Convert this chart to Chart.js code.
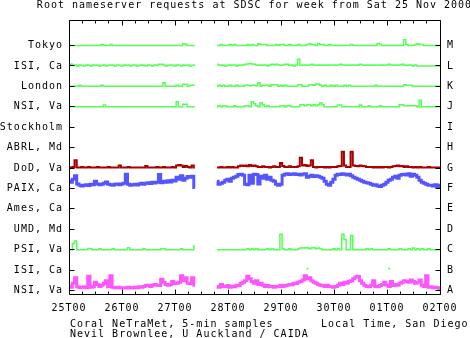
<!DOCTYPE html>
<html><head><meta charset="utf-8">
<script src="https://cdn.jsdelivr.net/npm/chart.js@4/dist/chart.umd.min.js"></script>
<style>html,body{margin:0;padding:0;background:#fff}canvas{display:block}</style>
</head><body>
<canvas id="c" width="470" height="338"></canvas>
<script>
// ---- text ----
const titleText = 'Root nameserver requests at SDSC for week from Sat 25 Nov 2000';
const servers = ['NSI, Va','ISI, Ca','PSI, Va','UMD, Md','Ames, Ca','PAIX, Ca','DoD, Va','ABRL, Md','Stockholm','NSI, Va','London','ISI, Ca','Tokyo'];
const letters = ['A','B','C','D','E','F','G','H','I','J','K','L','M'];
const dayLabels = ['25T00','26T00','27T00','28T00','29T00','30T00','01T00','02T00'];
const footLeft1 = 'Coral NeTraMet, 5-min samples';
const footLeft2 = 'Nevil Brownlee, U Auckland / CAIDA';
const footRight = 'Local Time, San Diego';

// ---- data: hourly activity (0..100 of a row), segment 1 = hours 0..57, segment 2 = hours 67..168 ----
const seg2Start = 67;

const tokyo1 = [0,0,0,0,0,0,0,0,0,0, 0,0,0,0,0,5,0,0,0,5, 0,0,0,0,0,0,0,0,0,0, 0,0,0,0,0,0,0,0,0,0, 0,0,0,0,0,0,0,0,0,0, 0,0,8,5,0,0,0,0];
const tokyo2 = [0,0,5,0,0,0,5,0,5,0, 0,0,0,0,5,0,5,0,0,8, 5,5,5,0,0,0,0,5,0,5, 5,0,0,5,0,0,0,5,0,0, 0,5,8,5,5,0,10,5,5,0, 0,5,0,0,0,0,0,0,0,0, 0,5,0,0,0,0,0,0,0,0, 0,0,0,10,5,0,0,0,0,0, 0,0,0,0,0,28,5,0,0,0, 5,8,5,5,0,0,0,0,0,0, 0,0];

const isiL1 = [10,8,3,5,0,5,3,0,5,3, 0,5,3,5,0,3,5,0,3,5, 3,0,5,3,0,5,3,5,0,3, 5,0,3,5,3,0,5,3,0,5, 3,8,8,5,0,3,5,3,0,5, 3,0,5,3,5,0,3,5];
const isiL2 = [8,5,3,5,0,3,5,3,5,0, 5,3,5,8,10,12,10,8,5,3, 5,3,5,0,5,8,5,8,5,3, 5,8,8,3,5,0,5,33,5,3, 5,3,5,8,5,3,5,3,5,3, 5,3,5,5,3,5,8,5,3,5, 3,5,5,3,5,8,5,3,5,3, 5,3,5,5,3,5,3,5,8,5, 3,5,3,5,8,5,3,5,3,0, 5,0,0,0,0,0,0,0,0,0, 0,0];

const london1 = [0,0,0,0,0,5,0,0,0,0, 0,0,0,0,0,5,0,0,0,0, 0,0,0,0,0,0,0,0,0,0, 0,0,0,0,0,0,0,0,0,0, 0,0,0,18,0,0,0,0,0,5, 0,0,10,10,0,5,5,5];
const london2 = [0,5,0,5,0,0,5,0,0,5, 0,0,0,5,5,3,5,5,3,18, 0,5,5,5,0,8,8,8,0,5, 0,5,0,0,0,0,0,8,8,0, 0,0,8,8,5,12,12,5,0,5, 0,0,5,0,5,0,0,0,5,0, 5,0,0,0,0,0,0,0,0,0, 0,0,5,0,0,0,0,0,0,0, 0,0,0,0,0,8,5,5,5,0, 0,0,0,0,0,0,0,0,0,0, 0,0];

const nsiJ1 = [0,0,0,0,0,0,0,0,0,0, 0,0,0,0,0,0,8,0,0,0, 0,0,0,0,0,0,0,0,0,0, 0,0,0,0,0,0,0,0,0,0, 0,0,0,0,0,0,0,0,0,25, 0,0,12,12,0,0,0,0];
const nsiJ2 = [0,5,0,5,5,0,0,0,5,0, 0,0,0,5,5,0,25,15,5,0, 20,10,0,5,0,0,0,0,0,5, 5,0,5,5,0,0,0,0,10,10, 5,10,10,5,10,5,10,20,10,0, 0,0,0,0,0,8,8,0,0,0, 0,0,0,0,0,8,0,0,0,5, 0,0,0,0,5,0,0,0,0,0, 0,0,0,10,10,5,5,5,5,5, 5,0,32,0,0,0,0,0,0,0, 0,0];

const dod1 = [2,2,5,38,2,2,5,2,2,5, 2,2,2,5,2,2,2,2,5,2, 2,2,2,12,2,2,2,5,2,2, 2,2,2,2,2,10,2,2,2,2, 5,2,2,5,2,2,2,5,2,12, 15,12,5,10,5,2,12,2];
const dod2 = [2,2,5,2,2,5,2,5,2,2, 8,12,10,12,8,15,10,12,8,5, 5,8,5,5,2,5,8,5,5,25, 10,5,5,8,5,5,5,8,50,12, 15,10,12,38,5,2,5,5,5,2, 5,2,5,5,5,8,10,79,12,5, 5,79,12,10,8,12,10,8,5,5, 5,2,5,2,5,2,5,5,2,5, 8,10,12,8,10,5,8,5,5,2, 5,2,5,2,2,2,5,2,2,2, 2,2];

const paix1 = [38,30,45,62,22,15,12,15,18,14, 20,18,35,22,18,20,25,32,20,18, 16,20,22,18,22,25,70,20,15,18, 20,17,22,25,20,25,28,24,30,26, 30,68,28,35,30,38,32,40,36,55, 45,62,40,50,58,55,60,5];
const paix2 = [35,20,25,30,40,45,35,50,55,60, 68,70,65,20,18,65,25,70,68,22, 60,50,65,45,55,40,35,20,15,20, 65,70,72,68,70,72,68,70,66,70, 72,55,60,65,58,62,60,55,50,35, 20,15,30,45,65,70,68,72,70,66, 70,62,55,50,45,40,35,30,28,25, 20,15,18,12,10,15,20,30,40,45, 55,60,50,65,68,70,66,72,60,70, 65,55,40,30,25,20,15,15,12,18, 10,15];

const psi1 = [0,0,30,42,0,0,0,0,0,6, 5,0,0,0,5,0,0,0,0,0, 5,0,0,0,0,0,0,10,0,0, 0,0,0,0,5,0,0,0,0,0, 0,0,5,5,0,0,0,0,0,0, 0,5,0,0,0,0,0,18];
const psi2 = [0,0,0,0,0,0,0,0,0,0, 0,0,0,0,5,0,5,0,5,0, 0,0,0,5,0,5,0,0,0,75, 5,0,0,5,0,0,0,5,8,10, 8,10,5,8,10,5,8,5,0,0, 0,0,0,5,0,5,0,75,50,0, 0,70,0,0,0,0,0,0,5,0, 5,0,0,0,0,0,0,0,5,0, 0,0,0,5,0,0,0,5,0,8, 0,5,0,5,0,0,5,0,0,0, 0,0];

const isiBHours = [108, 145];
const isiBValues = [7, 7];

const nsiA1 = [22,16,36,62,18,14,16,18,14,70, 16,18,40,30,20,26,36,48,18,72, 16,14,16,14,12,14,12,16,14,12, 16,14,18,16,20,24,26,20,26,30, 26,24,55,40,30,26,28,44,34,36, 40,72,48,62,36,34,62,26];
const nsiA2 = [20,16,30,20,18,24,16,20,18,26, 24,34,40,48,70,58,44,36,48,30, 36,26,20,24,18,20,16,20,18,26, 20,24,26,30,28,36,34,40,44,52, 72,58,62,48,40,36,30,26,24,20, 26,20,18,16,20,26,36,30,40,36, 44,48,58,66,70,48,36,26,20,18, 26,48,20,18,24,30,40,26,20,44, 24,30,26,36,40,48,44,40,52,44, 36,40,52,26,20,72,16,18,14,16, 14,10];

// ---- styling ----
const GREEN = '#55ff55', BLUE = '#5555ff', MAGENTA = '#ff55ff', RED = '#aa0000';
const FONT = {family: '"DejaVu Sans Mono", "Liberation Mono", monospace', size: 10};
const FONT_CSS = '10px "DejaVu Sans Mono", "Liberation Mono", monospace';
const Y_MIN = -0.2204, Y_MAX = 13.249;

function build(row, s1, s2) {
  const pts = [];
  s1.forEach((v, i) => pts.push({x: i, y: row + v / 100}));
  pts.push({x: (s1.length + seg2Start) / 2, y: null});
  s2.forEach((v, i) => pts.push({x: seg2Start + i, y: row + v / 100}));
  return pts;
}
function line(row, s1, s2, color, w) {
  return {data: build(row, s1, s2), borderColor: color, backgroundColor: color, borderWidth: w,
    pointRadius: 0, stepped: 'middle', spanGaps: false, fill: false, yAxisID: 'y'};
}

const datasets = [
  line(12, tokyo1, tokyo2, GREEN, 1.5),
  line(11, isiL1, isiL2, GREEN, 1.5),
  line(10, london1, london2, GREEN, 1.5),
  line(9, nsiJ1, nsiJ2, GREEN, 1.5),
  line(6, dod1, dod2, RED, 2),
  line(5, paix1, paix2, BLUE, 3),
  line(2, psi1, psi2, GREEN, 1.5),
  {data: isiBHours.map((h, i) => ({x: h, y: 1 + isiBValues[i] / 100})), showLine: false,
   pointStyle: 'rect', pointRadius: 1.3, pointBackgroundColor: GREEN, pointBorderWidth: 0, yAxisID: 'y'},
  line(0, nsiA1, nsiA2, MAGENTA, 3)
];

const spacing = {id: 'spacing', beforeDraw(chart) { chart.ctx.letterSpacing = '1px'; }};

const frame = {
  id: 'frame',
  afterDraw(chart) {
    const {ctx, chartArea: a, scales} = chart;
    const xs = scales.x, ys = scales.y;
    const L = a.left + 0.5, R = a.right + 0.5, T = a.top + 0.5, B = a.bottom - 0.5;
    ctx.save();
    ctx.strokeStyle = '#000'; ctx.lineWidth = 1;
    ctx.beginPath();
    ctx.moveTo(L, T); ctx.lineTo(R, T); ctx.lineTo(R, B); ctx.lineTo(L, B); ctx.closePath();
    servers.forEach((_, i) => {
      const y = Math.floor(ys.getPixelForValue(i)) + 0.5;
      ctx.moveTo(L, y); ctx.lineTo(L + 5, y);
      ctx.moveTo(R - 5, y); ctx.lineTo(R, y);
    });
    for (let h = 0; h <= 168; h += 6) {
      const x = Math.floor(xs.getPixelForValue(h)) + 0.5;
      const len = h % 24 === 0 ? 5 : 3;
      ctx.moveTo(x, T); ctx.lineTo(x, T + len);
      ctx.moveTo(x, B); ctx.lineTo(x, B - len);
    }
    ctx.stroke();
    ctx.fillStyle = '#000';
    ctx.font = FONT_CSS;
    ctx.letterSpacing = '1px';
    ctx.textBaseline = 'alphabetic';
    ctx.textAlign = 'center';
    ctx.fillText(titleText, (a.left + a.right) / 2, 8);
    ctx.textAlign = 'left';
    ctx.fillText(footLeft1, a.left + 1, 327);
    ctx.fillText(footLeft2, a.left + 1, 337);
    ctx.textAlign = 'right';
    ctx.fillText(footRight, 468.5, 327);
    ctx.restore();
  }
};

new Chart(document.getElementById('c'), {
  type: 'line',
  data: {datasets},
  options: {
    responsive: false, animation: false, devicePixelRatio: 1,
    layout: {padding: {top: 20, left: 0, right: 0, bottom: 0}},
    plugins: {legend: {display: false}, tooltip: {enabled: false}, title: {display: false}},
    scales: {
      x: {type: 'linear', min: 0, max: 168, position: 'bottom',
        grid: {display: false, drawTicks: false}, border: {display: false},
        afterBuildTicks: s => { s.ticks = dayLabels.map((_, i) => ({value: i * 24})); },
        ticks: {autoSkip: false, maxRotation: 0, padding: 7, color: '#000', font: FONT,
          callback: (v, i) => dayLabels[i]},
        afterFit: s => { s.height = 43; }},
      y: {type: 'linear', position: 'left', min: Y_MIN, max: Y_MAX,
        grid: {display: false, drawTicks: false}, border: {display: false},
        afterBuildTicks: s => { s.ticks = servers.map((_, i) => ({value: i})); },
        ticks: {autoSkip: false, padding: 6, color: '#000', font: FONT,
          callback: (v, i) => servers[i]},
        afterFit: s => { s.width = 69; }},
      y2: {type: 'linear', position: 'right', min: Y_MIN, max: Y_MAX,
        grid: {display: false, drawTicks: false}, border: {display: false},
        afterBuildTicks: s => { s.ticks = letters.map((_, i) => ({value: i})); },
        ticks: {autoSkip: false, padding: 7, color: '#000', font: FONT,
          callback: (v, i) => letters[i]},
        afterFit: s => { s.width = 30; }}
    }
  },
  plugins: [spacing, frame]
});
</script>
</body></html>
